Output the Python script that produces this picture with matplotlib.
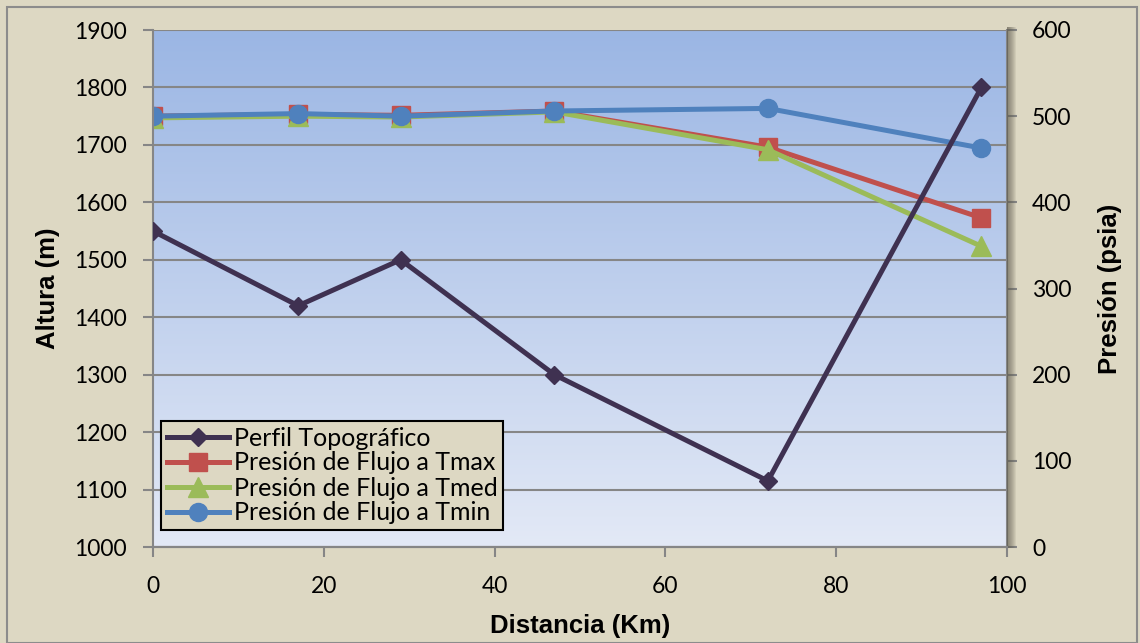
import numpy as np
import matplotlib
matplotlib.use("Agg")
import matplotlib.pyplot as plt
from matplotlib.patches import Rectangle
from matplotlib.colors import LinearSegmentedColormap

# distance along the line (km)
distancia = [0, 17, 29, 47, 72, 97]
# terrain height (m)
altura = [1550, 1420, 1500, 1300, 1115, 1800]
# flowing pressure (psia) at each temperature
p_tmax = [500, 502, 501, 506, 464, 382]
p_tmed = [498, 500, 499, 505, 461, 349]
p_tmin = [500, 503, 500, 506, 509, 463]

etiquetas = ["Perfil Topográfico", "Presión de Flujo a Tmax",
             "Presión de Flujo a Tmed", "Presión de Flujo a Tmin"]

fondo = "#ddd8c3"
gris = "#868686"
txt_font = ["Lato", "DejaVu Sans"]
bold_font = ["Liberation Sans", "DejaVu Sans"]

fig = plt.figure(figsize=(11.4, 6.43), dpi=100, facecolor=fondo)
x0, x1, y0, y1 = 153/1140, 1007/1140, 1 - 547/643, 1 - 30/643

# soft shadow to the right of the plot area
for i in range(9):
    fig.patches.append(Rectangle((x1, y0 - 0.002), (i + 1) / 1140, y1 - y0 + 0.006,
                                 transform=fig.transFigure, facecolor="#5e5a4c",
                                 alpha=0.1, edgecolor="none", zorder=0))

# outer frame
fig.patches.append(Rectangle((7/1140, 0), 1 - 10/1140, 1 - 7/643, transform=fig.transFigure,
                             fill=False, edgecolor="#8c8c8c", linewidth=1.5, zorder=5))

ax2 = fig.add_axes([x0, y0, x1 - x0, y1 - y0])
ax = ax2.twinx()
# height on the left (ax, drawn on top), pressure on the right (ax2)
ax2.yaxis.set_label_position("right")
ax2.yaxis.tick_right()
ax.yaxis.tick_left()
ax.yaxis.set_label_position("left")
ax.set_zorder(ax2.get_zorder() + 1)
ax.patch.set_visible(False)

# vertical blue gradient background
cmap = LinearSegmentedColormap.from_list("bg", ["#e3e9f6", "#9bb6e4"])
grad = np.linspace(0, 1, 256).reshape(-1, 1)
ax2.imshow(grad, cmap=cmap, aspect="auto", extent=[0, 1, 0, 1], origin="lower",
           transform=ax2.transAxes, zorder=0)

yt_alt = np.arange(1000, 1901, 100)
ax2.hlines(yt_alt, 0, 1, transform=ax.get_yaxis_transform(), colors=gris,
           linewidth=1.5, zorder=0.5)

lw = 3.6
l2, = ax2.plot(distancia, p_tmax, color="#c0504d", lw=lw, marker="s", ms=13, zorder=2)
l3, = ax2.plot(distancia, p_tmed, color="#9bbb59", lw=lw, marker="^", ms=15, zorder=3)
l4, = ax2.plot(distancia, p_tmin, color="#4f81bd", lw=lw, marker="o", ms=13, zorder=4)
l1, = ax.plot(distancia, altura, color="#3f3151", lw=lw, marker="D", ms=9, zorder=3)

ax.set_xlim(0, 100)
ax2.set_xlim(0, 100)
ax.set_ylim(1000, 1900)
ax2.set_ylim(0, 600)
ax.set_yticks(yt_alt)
ax2.set_yticks(np.arange(0, 601, 100))
ax2.set_xticks(np.arange(0, 101, 20))

for a in (ax, ax2):
    for s in a.spines.values():
        s.set_color(gris)
        s.set_linewidth(1.5)
    a.spines["top"].set_visible(False)
    a.tick_params(colors=gris, width=1.5, length=7, labelsize=16.5, labelcolor="black")
    for t in a.get_xticklabels() + a.get_yticklabels():
        t.set_family(txt_font)
ax.spines["right"].set_visible(False)
ax2.spines["left"].set_visible(False)
ax.tick_params(axis="x", length=0, labelbottom=False)
ax.tick_params(axis="y", pad=12)
ax2.tick_params(axis="y", pad=11)
ax2.tick_params(axis="x", pad=14)

ax.set_ylabel("Altura (m)", fontsize=18.5, fontweight="bold", family=bold_font, labelpad=10)
ax2.set_ylabel("Presión (psia)", fontsize=18.5, fontweight="bold", family=bold_font,
               labelpad=19, rotation=90)
ax2.set_xlabel("Distancia (Km)", fontsize=18.5, fontweight="bold", family=bold_font, labelpad=12)

leg = ax.legend([l1, l2, l3, l4], etiquetas, loc="lower left",
                bbox_to_anchor=(8/854, 17/517), frameon=True, fancybox=False,
                facecolor=fondo, edgecolor="black", framealpha=1,
                prop={"family": txt_font, "size": 18}, handlelength=2.5,
                handletextpad=0.2, labelspacing=0.08, borderpad=0.22, borderaxespad=0)
leg.get_frame().set_linewidth(1.5)

fig.savefig("out.png", dpi=100, facecolor=fondo)
